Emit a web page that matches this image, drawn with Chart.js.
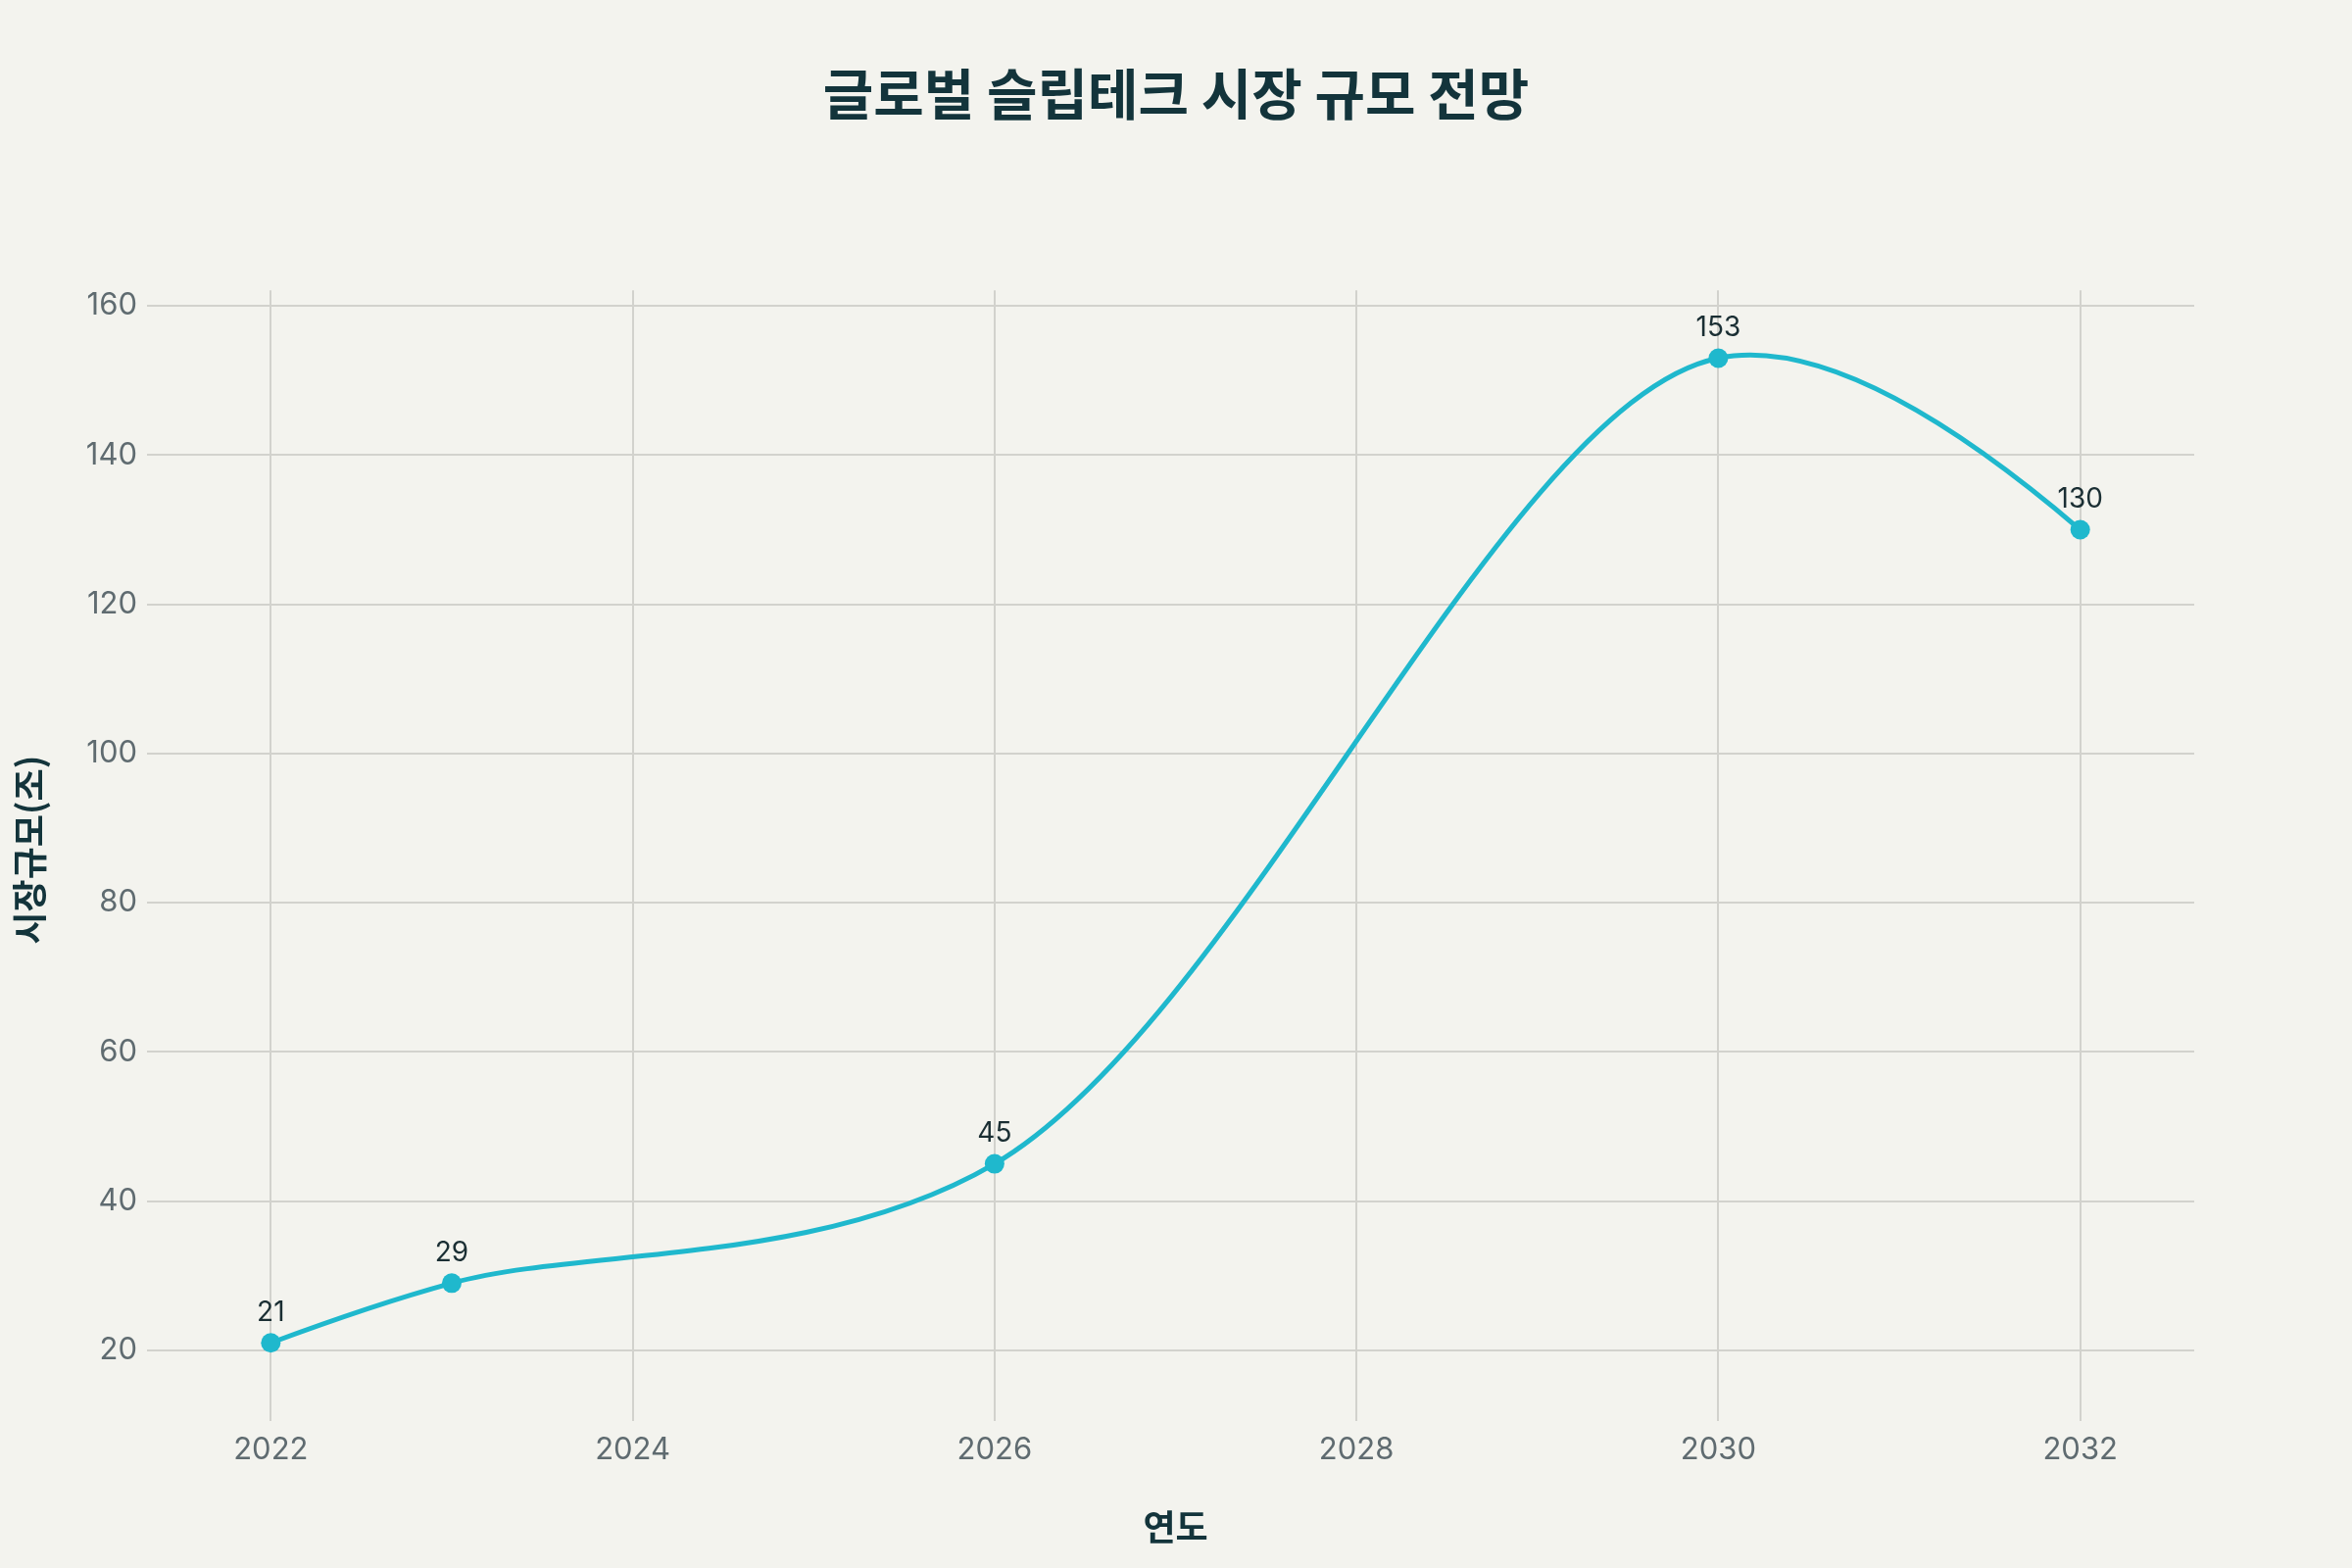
<!DOCTYPE html>
<html>
<head>
<meta charset="utf-8">
<script src="https://cdn.jsdelivr.net/npm/chart.js@4.4.1/dist/chart.umd.min.js"></script>
<style>
  html, body { margin: 0; padding: 0; background: #f3f3ee; }
  #wrap { width: 2400px; height: 1600px; }
</style>
</head>
<body>
<div id="wrap"><canvas id="marketChart" width="2400" height="1600"></canvas></div>
<script>
// 데이터
const years = [2022, 2023, 2026, 2030, 2032];
const marketSize = [21, 29, 45, 153, 130];
const xTicks = [2022, 2024, 2026, 2028, 2030, 2032];
const yTicks = [20, 40, 60, 80, 100, 120, 140, 160];

const lineColor = '#1fb8cd';
const darkText = '#13343b';
const tickText = '#5f6b70';
const gridColor = '#d2d2cd';

// 점 위에 값 표시
const valueLabels = {
    id: 'valueLabels',
    afterDatasetsDraw(chart) {
        const ctx = chart.ctx;
        const meta = chart.getDatasetMeta(0);
        ctx.save();
        ctx.font = '28px Inter';
        ctx.fillStyle = '#1a2e33';
        ctx.textAlign = 'center';
        ctx.textBaseline = 'middle';
        meta.data.forEach((pt, i) => {
            ctx.fillText(String(marketSize[i]), pt.x, pt.y - 31);
        });
        ctx.restore();
    }
};

// 곡선 보간 (centripetal catmull-rom 방식으로 제어점 계산)
function tangentPair(prev, cur, next, smooth) {
    const d1x = prev.x - cur.x, d1y = prev.y - cur.y;
    const d2x = next.x - cur.x, d2y = next.y - cur.y;
    const d1a = Math.pow(d1x * d1x + d1y * d1y, 0.25);
    const d2a = Math.pow(d2x * d2x + d2y * d2y, 0.25);
    const numx = (d2a * d2a * d1x - d1a * d1a * d2x) * smooth;
    const numy = (d2a * d2a * d1y - d1a * d1a * d2y) * smooth;
    const den1 = 3 * d2a * (d1a + d2a);
    const den2 = 3 * d1a * (d1a + d2a);
    return {
        before: { x: cur.x + numx / den1, y: cur.y + numy / den1 },
        after: { x: cur.x - numx / den2, y: cur.y - numy / den2 }
    };
}

const smoothCurve = {
    id: 'smoothCurve',
    beforeDatasetDraw(chart, args) {
        const meta = args.meta;
        const pts = meta.data;
        const n = pts.length;
        if (n < 3) return;
        const tans = [];
        for (let i = 1; i < n - 1; i++) tans.push(tangentPair(pts[i - 1], pts[i], pts[i + 1], 1));
        // 첫 구간: 2차 곡선 -> 3차로 변환
        const c0 = tans[0].before;
        pts[0].cp2x = pts[0].x + 2 / 3 * (c0.x - pts[0].x);
        pts[0].cp2y = pts[0].y + 2 / 3 * (c0.y - pts[0].y);
        pts[1].cp1x = pts[1].x + 2 / 3 * (c0.x - pts[1].x);
        pts[1].cp1y = pts[1].y + 2 / 3 * (c0.y - pts[1].y);
        for (let i = 2; i < n - 1; i++) {
            pts[i - 1].cp2x = tans[i - 2].after.x;
            pts[i - 1].cp2y = tans[i - 2].after.y;
            pts[i].cp1x = tans[i - 1].before.x;
            pts[i].cp1y = tans[i - 1].before.y;
        }
        // 마지막 구간
        const cl = tans[n - 3].after;
        pts[n - 2].cp2x = pts[n - 2].x + 2 / 3 * (cl.x - pts[n - 2].x);
        pts[n - 2].cp2y = pts[n - 2].y + 2 / 3 * (cl.y - pts[n - 2].y);
        pts[n - 1].cp1x = pts[n - 1].x + 2 / 3 * (cl.x - pts[n - 1].x);
        pts[n - 1].cp1y = pts[n - 1].y + 2 / 3 * (cl.y - pts[n - 1].y);
        meta.dataset._pointsUpdated = true;
        meta.dataset._path = undefined;
    }
};

const ctx = document.getElementById('marketChart').getContext('2d');
new Chart(ctx, {
    type: 'line',
    data: {
        datasets: [{
            data: years.map((y, i) => ({ x: y, y: marketSize[i] })),
            borderColor: lineColor,
            backgroundColor: lineColor,
            borderWidth: 5,
            tension: 0.4,
            pointRadius: 10,
            pointBorderWidth: 0,
            pointBackgroundColor: lineColor,
            clip: false
        }]
    },
    options: {
        responsive: false,
        animation: false,
        layout: { padding: 0 },
        scales: {
            x: {
                type: 'linear',
                min: 2021.37,
                max: 2032.63,
                afterBuildTicks: (scale) => { scale.ticks = xTicks.map(v => ({ value: v })); },
                afterFit: (scale) => { scale.height = 1600 - 1438; },
                grid: { color: gridColor, lineWidth: 2, tickLength: 12 },
                border: { display: false },
                ticks: {
                    color: tickText,
                    font: { family: 'Inter', size: 31 },
                    padding: 11,
                    callback: (v) => String(v)
                },
                title: {
                    display: true,
                    text: '연도',
                    color: darkText,
                    font: { family: 'Noto Sans CJK KR', size: 36, weight: 'bold' },
                    padding: { top: 0, bottom: 20 }
                }
            },
            y: {
                min: 12.1,
                max: 162.1,
                afterBuildTicks: (scale) => { scale.ticks = yTicks.map(v => ({ value: v })); },
                afterFit: (scale) => { scale.width = 160; },
                grid: { color: gridColor, lineWidth: 2, tickLength: 10 },
                border: { display: false },
                ticks: {
                    color: tickText,
                    font: { family: 'Inter', size: 31 },
                    padding: 10
                },
                title: {
                    display: true,
                    text: '시장규모(조)',
                    color: darkText,
                    font: { family: 'Noto Sans CJK KR', size: 36, weight: 'bold' },
                    padding: { top: 9, bottom: 0 }
                }
            },
            // 오른쪽 여백용 빈 축
            yRight: {
                position: 'right',
                afterFit: (scale) => { scale.width = 161; },
                grid: { display: false, drawTicks: false },
                border: { display: false },
                ticks: { display: false }
            }
        },
        plugins: {
            legend: { display: false },
            tooltip: { enabled: false },
            title: {
                display: true,
                text: '글로벌 슬립테크 시장 규모 전망',
                color: darkText,
                font: { family: 'Noto Sans CJK KR', size: 56, weight: 'bold', lineHeight: 1.2 },
                padding: { top: 62, bottom: 167 }
            }
        }
    },
    plugins: [smoothCurve, valueLabels, {
        id: 'bg',
        beforeDraw(chart) {
            const c = chart.ctx;
            c.save();
            c.fillStyle = '#f3f3ee';
            c.fillRect(0, 0, chart.width, chart.height);
            c.restore();
        }
    }]
});
</script>
</body>
</html>
